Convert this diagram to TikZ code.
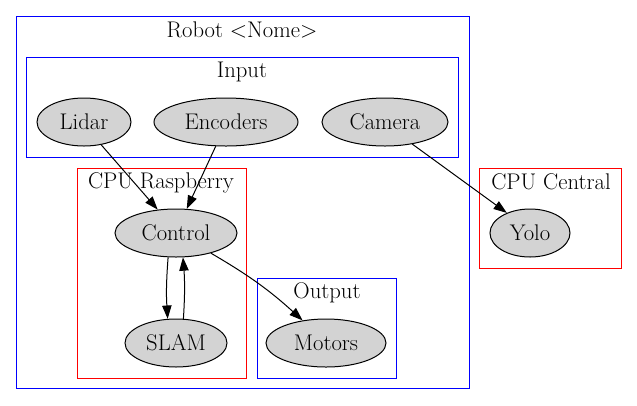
\documentclass[tikz,border=0pt]{standalone}
\usepackage{xcolor}
\usepackage{tikz}
\usetikzlibrary{shapes.geometric,arrows.meta}
\definecolor{gvgray}{RGB}{211,211,211}
\tikzset{
  gvnode/.style = {ellipse, draw=black, fill=gvgray, inner sep=0pt,
    minimum height=36pt},% noeud gris
  gvw/.style = {minimum width=#1*0.75pt},% largeur en pixels
  clu_b/.style = {draw=blue, line width=0.75pt},% cluster bleu
  clu_r/.style = {draw=red, line width=0.75pt},% cluster rouge
  clu_t/.style = {inner sep=0pt}% titre de cluster
}
\begin{document}
\begin{tikzpicture}[x=0.75pt,y=-0.75pt,->,>={Triangle[length=10pt,width=7pt]},
  line width=0.75pt, font=\fontsize{17}{19}\selectfont]
\useasboundingbox (0,0) rectangle (637,405);
% clusters
\draw[clu_b,-] (16,16) rectangle (469,388);
\node[clu_t] (t_robot) at (242,30) {Robot <Nome>};
\draw[clu_b,-] (26,57) rectangle (458,157);
\node[clu_t] (t_input) at (242,72) {Input};
\draw[clu_r,-] (77,168) rectangle (246,378);
\node[clu_t] (t_cpur) at (161,183) {CPU Raspberry};
\draw[clu_b,-] (257,278) rectangle (396,378);
\node[clu_t] (t_output) at (327,293) {Output};
\draw[clu_r,-] (479,168) rectangle (621,268);
\node[clu_t] (t_cpuc) at (551,182) {CPU Central};
% nodes
\node[gvnode, gvw=94]  (lidar)    at (84,122)  {Lidar};
\node[gvnode, gvw=144] (encoders) at (226,122) {Encoders};
\node[gvnode, gvw=126] (camera)   at (385,122) {Camera};
\node[gvnode, gvw=122] (control)  at (176,233) {Control};
\node[gvnode, gvw=102] (slam)     at (176,343) {SLAM};
\node[gvnode, gvw=120] (motors)   at (326,343) {Motors};
\node[gvnode, gvw=80]  (yolo)     at (530,233) {Yolo};
% edges
\draw (lidar.-53) -- (control.128);
\draw (encoders.-113) -- (control.66);
\draw (control.-108) to[bend right=4] (slam.109);
\draw (slam.73) to[bend right=4] (control.-74);
\draw (control.-30) to[bend left=6] (motors.136);
\draw (camera.-39) -- (yolo.139);
\end{tikzpicture}
\end{document}
